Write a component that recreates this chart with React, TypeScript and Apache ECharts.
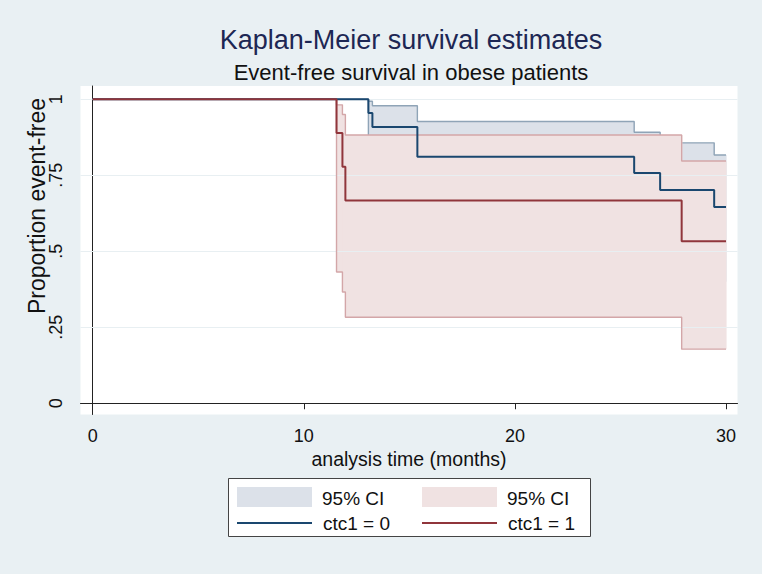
import React, { useEffect, useRef } from "react";
import * as echarts from "echarts";

const FONT = "'Liberation Sans', Arial, Helvetica, sans-serif";

const titleText = "Kaplan-Meier survival estimates";
const subtitleText = "Event-free survival in obese patients";
const xAxisTitle = "analysis time (months)";
const yAxisTitle = "Proportion event-free";

const xTickValues = [0, 10, 20, 30];
const yTickValues = [0, 0.25, 0.5, 0.75, 1];
const yTickLabels = ["0", ".25", ".5", ".75", "1"];
const yGridValues = [0.25, 0.5, 0.75, 1];

// ctc1 = 0
const timeCtc0 = [0, 13.06, 13.25, 15.38, 25.65, 26.88, 29.44, 30];
const survCtc0 = [1, 0.955, 0.909, 0.811, 0.758, 0.702, 0.646, 0.646];
const upperCtc0 = [1, 0.994, 0.979, 0.927, 0.892, 0.857, 0.817, 0.817];
const lowerCtc0 = [1, 0.72, 0.68, 0.58, 0.52, 0.46, 0.4, 0.4];

// ctc1 = 1
const timeCtc1 = [0, 11.55, 11.83, 11.97, 27.9, 30];
const survCtc1 = [1, 0.889, 0.778, 0.667, 0.533, 0.533];
const upperCtc1 = [1, 0.982, 0.95, 0.883, 0.797, 0.797];
const lowerCtc1 = [1, 0.432, 0.366, 0.283, 0.178, 0.178];

const legendLabels = ["95% CI", "95% CI", "ctc1 = 0", "ctc1 = 1"];

const BLUE = "#1a476f";
const RED = "#90353b";
const BLUE_FILL = "#dce1e9";
const RED_FILL = "#f0e2e2";
const BLUE_EDGE = "#8fa4b7";
const RED_EDGE = "#d3a6a8";

function bandItems(t: number[], lo: number[], up: number[]) {
  const out: number[][] = [];
  for (let i = 0; i < t.length - 1; i++) out.push([t[i], t[i + 1], lo[i], up[i]]);
  return out;
}

function pts(t: number[], v: number[]) {
  return t.map((x, i) => [x, v[i]]);
}

function bandSeries(name: string, t: number[], lo: number[], up: number[], fill: string, z: number) {
  return {
    type: "custom",
    name,
    z,
    silent: true,
    encode: { x: [0, 1], y: [2, 3] },
    data: bandItems(t, lo, up),
    renderItem: (params: any, api: any) => {
      const p0 = api.coord([api.value(0), api.value(3)]);
      const p1 = api.coord([api.value(1), api.value(2)]);
      return {
        type: "rect",
        shape: { x: p0[0], y: p0[1], width: p1[0] - p0[0] + 0.6, height: p1[1] - p0[1] },
        style: { fill, stroke: null },
      };
    },
  };
}

function stepLine(name: string, t: number[], v: number[], color: string, width: number, z: number) {
  return {
    type: "line",
    name,
    z,
    step: "end",
    silent: true,
    showSymbol: false,
    symbol: "none",
    data: pts(t, v),
    lineStyle: { color, width },
  };
}

export default function App() {
  const ref = useRef<HTMLDivElement>(null);
  useEffect(() => {
    if (!ref.current) return;
    const chart = echarts.init(ref.current, null, { renderer: "svg" });
    const option: any = {
      animation: false,
      backgroundColor: "#e9f0f3",
      textStyle: { fontFamily: FONT },
      title: {
        text: titleText,
        subtext: subtitleText,
        left: 411,
        top: 26,
        textAlign: "center",
        padding: 0,
        itemGap: 8,
        textStyle: { fontFamily: FONT, fontSize: 27, fontWeight: "normal", color: "#1d2754" },
        subtextStyle: { fontFamily: FONT, fontSize: 22, color: "#111111" },
      },
      grid: {
        left: 80.5,
        right: 24.5,
        top: 86,
        bottom: 159.5,
        show: true,
        backgroundColor: "#ffffff",
        borderWidth: 0,
      },
      xAxis: {
        type: "value",
        min: -0.578,
        max: 30.545,
        name: xAxisTitle,
        nameLocation: "middle",
        nameGap: 33,
        nameTextStyle: { fontFamily: FONT, fontSize: 19.5, color: "#111" },
        axisLine: { show: true, lineStyle: { color: "#222", width: 1 } },
        axisTick: { show: true, length: 6, customValues: xTickValues, lineStyle: { color: "#222" } },
        axisLabel: { customValues: xTickValues, fontSize: 18, color: "#111", margin: 12, fontFamily: FONT },
        splitLine: { show: false },
      },
      yAxis: {
        type: "value",
        min: -0.037,
        max: 1.044,
        axisLine: { show: true, lineStyle: { color: "#222", width: 1 } },
        axisTick: { show: true, length: 8, customValues: yTickValues, lineStyle: { color: "#222" } },
        axisLabel: {
          customValues: yTickValues,
          rotate: 90,
          fontSize: 18,
          color: "#111",
          margin: 16,
          fontFamily: FONT,
          formatter: (v: number) => {
            const i = yTickValues.findIndex((y) => Math.abs(y - v) < 1e-9);
            return i >= 0 ? yTickLabels[i] : "";
          },
        },
        splitLine: { show: false },
      },
      graphic: [
        {
          type: "text",
          x: 37,
          y: 206,
          rotation: Math.PI / 2,
          style: {
            text: yAxisTitle,
            font: `23px ${FONT}`,
            fill: "#111",
            align: "center",
            verticalAlign: "middle",
          },
        },
        {
          type: "rect",
          shape: { x: 228.5, y: 478.5, width: 362, height: 58 },
          style: { fill: "#ffffff", stroke: "#444", lineWidth: 1 },
        },
        { type: "rect", shape: { x: 237, y: 487, width: 75, height: 20 }, style: { fill: BLUE_FILL } },
        { type: "rect", shape: { x: 422, y: 487, width: 75, height: 20 }, style: { fill: RED_FILL } },
        { type: "line", shape: { x1: 237, y1: 523, x2: 312, y2: 523 }, style: { stroke: BLUE, lineWidth: 2 } },
        { type: "line", shape: { x1: 422, y1: 523, x2: 497, y2: 523 }, style: { stroke: RED, lineWidth: 2 } },
        {
          type: "text",
          x: 322,
          y: 498,
          style: { text: legendLabels[0], font: `19px ${FONT}`, fill: "#111", verticalAlign: "middle" },
        },
        {
          type: "text",
          x: 507,
          y: 498,
          style: { text: legendLabels[1], font: `19px ${FONT}`, fill: "#111", verticalAlign: "middle" },
        },
        {
          type: "text",
          x: 323,
          y: 523,
          style: { text: legendLabels[2], font: `19px ${FONT}`, fill: "#111", verticalAlign: "middle" },
        },
        {
          type: "text",
          x: 508,
          y: 523,
          style: { text: legendLabels[3], font: `19px ${FONT}`, fill: "#111", verticalAlign: "middle" },
        },
      ],
      series: [
        {
          type: "line",
          name: "grid",
          z: 1,
          data: [],
          silent: true,
          markLine: {
            silent: true,
            symbol: "none",
            label: { show: false },
            lineStyle: { color: "#e8eff2", width: 1, type: "solid" },
            data: yGridValues.map((y) => ({ yAxis: y })),
          },
        },
        bandSeries("ci0", timeCtc0, lowerCtc0, upperCtc0, BLUE_FILL, 2),
        stepLine("ci0 upper", timeCtc0, upperCtc0, BLUE_EDGE, 1.4, 3),
        stepLine("ci0 lower", timeCtc0, lowerCtc0, BLUE_EDGE, 1.4, 3),
        bandSeries("ci1", timeCtc1, lowerCtc1, upperCtc1, RED_FILL, 4),
        stepLine("ci1 upper", timeCtc1, upperCtc1, RED_EDGE, 1.4, 5),
        stepLine("ci1 lower", timeCtc1, lowerCtc1, RED_EDGE, 1.4, 5),
        stepLine("ctc1 = 0", timeCtc0, survCtc0, BLUE, 2, 6),
        stepLine("ctc1 = 1", timeCtc1, survCtc1, RED, 2, 7),
      ],
    };
    chart.setOption(option);
    return () => chart.dispose();
  }, []);
  return (
    <div
      ref={ref}
      style={{ position: "fixed", left: 0, top: 0, width: 762, height: 574 }}
    />
  );
}
